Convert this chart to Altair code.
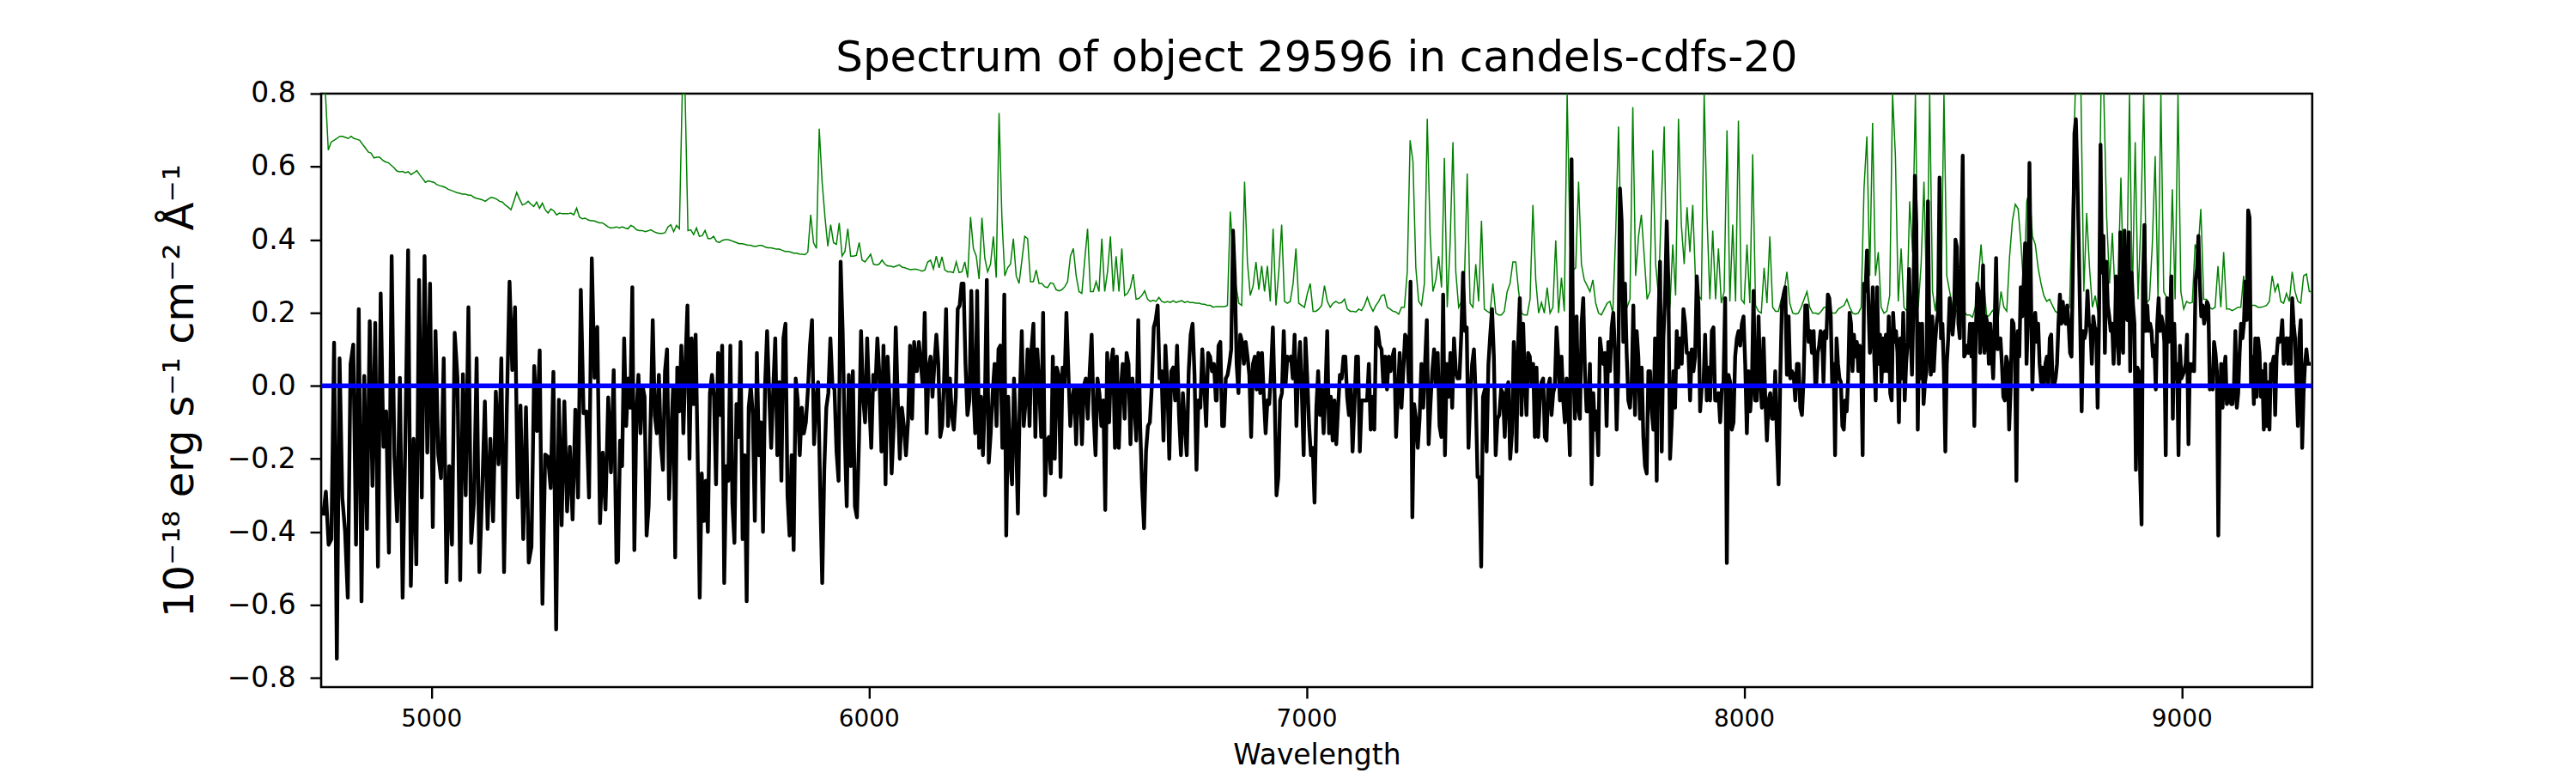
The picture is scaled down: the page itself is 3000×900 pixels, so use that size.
import altair as alt
import numpy as np
import pandas as pd

TITLE = "Spectrum of object 29596 in candels-cdfs-20"
X_TITLE = "Wavelength"
Y_TITLE = "10⁻¹⁸ erg s⁻¹ cm⁻² Å⁻¹"
X_TICKS = [5000, 6000, 7000, 8000, 9000]
Y_TICKS = [-0.8, -0.6, -0.4, -0.2, 0.0, 0.2, 0.4, 0.6, 0.8]
X_DOMAIN = [4748.5, 9298.4]
Y_DOMAIN = [-0.825, 0.8]
ZERO_LEVEL = [0.0]

# object flux, read strip by strip (start wavelength, end wavelength, values)
BLACK_S1 = [-0.355, -0.29, -0.435, -0.42, 0.118, -0.747, 0.075, -0.306, -0.398, -0.58, 0.059, 0.113, -0.435, 0.21, -0.59, 0.027, -0.392, 0.177, -0.274, 0.172, -0.495, 0.253, -0.167, -0.07, -0.457, 0.355, -0.194, -0.371, 0.022, -0.58, -0.14, 0.371, -0.548, -0.145, -0.489, 0.29, -0.306, 0.355, -0.183, 0.28, -0.387, 0.15, -0.188, -0.253, 0.075, -0.538, -0.22, -0.435, 0.145, 0.022, -0.532, 0.032, -0.3, 0.215, -0.43, -0.32, 0.075, -0.51, -0.296, -0.043, -0.392, -0.145, -0.371, -0.016, -0.215, 0.075, -0.51, -0.065, 0.285, 0.043, 0.215, -0.306, -0.054, -0.42, -0.059, -0.484, -0.44, 0.054, -0.124, 0.097, -0.597, -0.188, -0.194, -0.28, 0.038, -0.667, -0.038, -0.382, -0.043, -0.344, -0.167, -0.366, -0.065, -0.306, 0.263, -0.075, -0.07, -0.306, 0.349, 0.022, 0.161, -0.376, -0.183, -0.339, -0.032, -0.237, 0.043, -0.484]
BLACK_S2 = [-0.48, -0.15, -0.22, 0.13, -0.11, 0.02, -0.06, 0.27, -0.45, -0.08, 0.03, -0.13, 0.00, -0.03, -0.41, -0.33, -0.08, 0.18, -0.08, -0.13, 0.03, -0.16, -0.23, 0.04, 0.10, -0.31, -0.14, 0.00, -0.47, 0.05, -0.07, 0.11, -0.13, 0.06, 0.22, -0.20, 0.13, -0.05, 0.14, -0.19, -0.58, -0.24, -0.37, -0.26, -0.40, -0.02, 0.03, -0.03, -0.27, 0.09, -0.08, 0.11, -0.54, -0.22, -0.26, 0.11, -0.32, -0.43, -0.05, -0.14, 0.12, -0.42, -0.19, -0.59, -0.06, 0.00, -0.08, -0.37, 0.09, -0.19, -0.10, -0.40, 0.00, 0.15, -0.02, -0.17, -0.01, 0.13, -0.19, 0.01, -0.26, 0.13, 0.17, -0.30, -0.41, -0.19, -0.45, 0.02, -0.04, -0.19, -0.06, -0.13, -0.10, -0.01, 0.11, 0.18, -0.16, -0.04, 0.01, -0.29, -0.54, -0.23, -0.06, -0.02, 0.13, 0.00, -0.01, -0.18, -0.26, 0.34, 0.15, -0.13, -0.33, 0.03, -0.22, 0.04, -0.33, -0.36, -0.15, 0.15, -0.03, -0.10, 0.13, -0.04, -0.17, 0.03, -0.01, 0.13, 0.03, -0.18, 0.11, -0.27, 0.08, -0.04, -0.24, -0.11, 0.16, -0.04, -0.20, -0.06, -0.11, -0.19, -0.10, 0.11, -0.09, 0.12, 0.04]
BLACK_S3 = [0.04, 0.12, 0.06, 0.00, 0.20, -0.13, 0.05, 0.08, -0.03, 0.06, 0.14, 0.06, -0.14, -0.11, 0.02, 0.21, -0.11, 0.02, -0.08, -0.12, -0.03, 0.21, 0.22, 0.28, 0.28, 0.06, -0.08, -0.04, 0.26, 0.00, -0.13, 0.26, -0.17, -0.03, -0.19, -0.04, 0.29, -0.21, -0.13, -0.02, 0.06, -0.11, 0.10, 0.11, -0.17, 0.25, -0.41, -0.03, -0.20, -0.27, 0.02, -0.13, -0.35, -0.03, 0.15, -0.11, -0.04, 0.10, -0.11, 0.10, 0.17, -0.14, 0.10, 0.00, -0.14, 0.20, -0.30, -0.15, -0.14, -0.24, 0.08, -0.20, 0.05, 0.03, -0.25, 0.05, 0.00, 0.20, 0.04, -0.11, -0.04, 0.00, -0.16, 0.00, 0.00, -0.16, 0.00, 0.02, -0.09, 0.04, 0.14, -0.08, -0.19, 0.02, -0.02, -0.11, -0.04, -0.34, 0.09, -0.10, 0.06, 0.10, -0.17, 0.08, -0.17, -0.01, 0.06, -0.09, 0.09, 0.06, -0.16, 0.02, -0.05, -0.15, 0.18, -0.11, -0.28, -0.39, -0.18, -0.11, -0.10, 0.00, 0.16, 0.18, 0.22, 0.02, 0.04, -0.15, 0.11, 0.00, -0.20, 0.04, 0.05, -0.04, 0.11, -0.08, -0.19, -0.02, -0.11, -0.19, 0.04, 0.14, 0.17, 0.03, -0.23, -0.04, -0.06, 0.10, 0.00, -0.11, 0.09, 0.08, 0.04, 0.06, -0.04]
BLACK_S4 = [-0.04, 0.11, 0.12, -0.11, -0.11, 0.02, 0.03, 0.06, 0.10, 0.425, 0.30, 0.06, -0.02, 0.14, 0.12, 0.06, 0.12, 0.08, 0.03, -0.14, 0.06, 0.08, -0.01, 0.09, -0.02, 0.09, -0.03, -0.13, -0.04, -0.05, 0.04, 0.16, -0.03, -0.30, -0.25, -0.04, -0.02, 0.15, 0.00, 0.08, 0.07, 0.08, 0.02, 0.14, -0.11, 0.04, 0.12, -0.02, -0.19, 0.13, 0.02, -0.11, -0.19, -0.17, -0.32, -0.06, 0.04, -0.08, -0.01, -0.13, -0.02, 0.15, -0.13, -0.03, -0.15, -0.04, -0.16, -0.06, 0.03, 0.02, 0.08, 0.08, -0.03, -0.08, 0.00, -0.18, -0.06, 0.08, 0.08, -0.18, -0.04, -0.04, -0.04, -0.04, 0.06, -0.12, -0.03, -0.12, 0.16, 0.15, 0.11, 0.10, 0.00, 0.08, -0.01, 0.08, 0.04, 0.08, 0.10, -0.14, -0.03, 0.09, -0.06, 0.04, 0.14, 0.13, 0.01, 0.285, -0.36, -0.05, -0.09, -0.17, -0.09, 0.06, -0.06, 0.06, 0.18, -0.16, -0.05, 0.04, 0.10, 0.00, 0.09, -0.11, -0.14, 0.25, -0.19, 0.06, -0.03, 0.09, -0.06, 0.13, 0.04, 0.02, 0.02, 0.14, 0.31, 0.15, 0.16, -0.17, -0.03, 0.06, 0.10, -0.03, -0.25, -0.25, -0.495, -0.03, -0.01, -0.18, 0.06, 0.14, 0.21, 0.08, -0.19, -0.09, -0.08, -0.01, -0.02, -0.14, -0.01, 0.01, -0.20, -0.13, 0.12, 0.01]
BLACK_S5 = [-0.18, 0.12, 0.24, -0.08, 0.17, 0.02, -0.08, 0.09, 0.08, 0.00, 0.06, -0.14, 0.05, -0.14, -0.04, 0.01, 0.02, -0.14, -0.15, 0.00, 0.02, -0.08, -0.02, 0.00, 0.16, 0.08, -0.04, 0.08, -0.04, -0.10, 0.02, -0.05, -0.19, 0.62, 0.06, -0.09, 0.19, -0.06, -0.09, 0.17, 0.24, 0.04, -0.07, -0.07, 0.06, -0.27, -0.02, -0.12, -0.07, -0.19, 0.13, 0.09, 0.06, 0.09, -0.11, 0.12, 0.04, 0.16, 0.20, 0.09, -0.12, 0.04, 0.54, 0.45, 0.12, 0.28, 0.09, -0.04, -0.06, 0.01, 0.22, -0.08, 0.15, 0.08, -0.09, 0.05, -0.14, -0.22, -0.24, 0.04, 0.04, -0.07, -0.12, 0.13, -0.26, 0.17, 0.34, -0.18, 0.13, 0.24, 0.45, 0.28, -0.20, -0.10, 0.04, -0.06, 0.15, 0.05, 0.13, 0.06, 0.21, 0.17, 0.09, 0.09, -0.04, 0.10, 0.04, 0.08, 0.30, 0.22, -0.07, 0.00, 0.00, 0.14, -0.04, 0.05, -0.04, 0.15, 0.16, -0.04, -0.04, -0.02, -0.10, -0.01, 0.01, 0.24, -0.485, 0.03, 0.01, -0.12, -0.10, 0.08, 0.13, 0.15, 0.11, 0.17, 0.19, 0.06, -0.13, 0.04, -0.07, 0.00, 0.26, -0.04, -0.04, 0.19, 0.02, -0.06, 0.13, -0.03, -0.15, -0.04, -0.02, -0.09, -0.09, 0.04, -0.14, -0.27, 0.02, 0.22, 0.25, 0.27, 0.03, 0.19, 0.02, 0.04, 0.03, -0.04, 0.06, 0.06, -0.06, -0.08, 0.02, 0.22, 0.22, 0.12, 0.15, 0.09, 0.15, 0.00]
BLACK_S6 = [0.00, 0.09, 0.11, 0.15, 0.14, 0.01, 0.15, 0.13, 0.25, 0.24, 0.19, 0.00, 0.06, -0.19, 0.13, 0.06, 0.02, 0.01, -0.11, -0.12, -0.04, -0.07, 0.02, 0.20, 0.17, 0.04, 0.14, 0.08, 0.12, 0.04, 0.11, 0.06, -0.19, 0.28, 0.26, 0.37, 0.22, 0.09, 0.14, 0.27, 0.08, -0.04, 0.27, 0.06, 0.14, 0.01, 0.13, 0.04, 0.14, 0.04, 0.19, -0.02, -0.04, 0.20, 0.12, 0.15, 0.09, -0.10, 0.13, 0.02, 0.20, -0.04, 0.06, 0.12, 0.32, 0.15, 0.03, 0.22, 0.575, 0.44, -0.12, 0.17, 0.02, 0.17, -0.05, 0.01, 0.04, 0.505, 0.12, 0.03, 0.19, 0.04, 0.12, 0.17, 0.20, 0.57, 0.13, 0.17, 0.04, -0.18, 0.06, 0.13, 0.24, 0.19, 0.14, 0.19, 0.40, 0.38, 0.17, 0.13, 0.35, 0.63, 0.08, 0.09, 0.11, 0.09, 0.17, 0.08, 0.17, -0.11, 0.14, 0.28, 0.26, 0.09, 0.16, 0.33, 0.09, 0.19, 0.17, 0.06, 0.17, 0.09, 0.02, 0.17, 0.35, 0.10, 0.13, 0.13, 0.06, -0.03, -0.04, 0.08, 0.06, -0.12, -0.01, 0.18, 0.17, 0.09, -0.26, 0.15, 0.08, 0.27, 0.19, 0.28, 0.39, 0.06, 0.19, 0.61, 0.28, -0.01, 0.13, 0.20, 0.12, 0.17, 0.06, 0.01, 0.05, 0.00, 0.06, 0.08, 0.00, 0.13, 0.14, 0.00, 0.00, 0.02, 0.06, 0.17, 0.25, 0.17, 0.23, 0.18, 0.17, 0.22, 0.17, 0.09, 0.08, 0.34, 0.69, 0.73, 0.58, 0.39, 0.17, -0.07, 0.15, 0.13, 0.15, 0.26, 0.17, 0.16, 0.06, 0.19, 0.16, 0.15, -0.06, 0.18, 0.66, 0.31, 0.41, 0.09, 0.34, 0.22, 0.19, 0.15, 0.17, 0.06, 0.15]
BLACK_S7 = [0.30, 0.16, 0.06, 0.42, 0.13, 0.09, 0.425, 0.19, 0.18, 0.42, 0.04, 0.31, 0.22, 0.17, -0.23, 0.05, 0.04, -0.24, -0.38, 0.28, 0.44, 0.15, 0.22, 0.15, 0.17, 0.15, 0.08, 0.11, -0.01, 0.17, 0.24, 0.15, 0.19, 0.17, 0.12, -0.19, 0.24, 0.12, 0.19, 0.30, -0.09, 0.17, 0.02, 0.06, -0.19, 0.11, 0.02, 0.03, 0.04, 0.06, 0.14, -0.16, 0.06, 0.04, 0.06, 0.04, 0.29, 0.32, 0.41, 0.28, 0.19, 0.22, 0.17, 0.19, 0.23, 0.22, -0.01, 0.00, -0.01, 0.12, 0.09, 0.04, -0.41, -0.06, 0.06, -0.06, 0.04, 0.08, -0.05, -0.04, 0.00, -0.05, -0.05, 0.00, 0.15, -0.06, -0.02, 0.09, 0.17, 0.13, 0.17, 0.285, 0.18, 0.48, 0.46, 0.00, 0.08, -0.05, 0.13, -0.03, 0.13, 0.09, -0.03, 0.04, -0.12, 0.06, -0.11, 0.01, -0.12, 0.06, 0.06, 0.08, -0.08, 0.08, 0.13, 0.12, 0.13, 0.18, 0.06, 0.12, 0.13, 0.06, 0.13, 0.06, 0.24, 0.17, 0.13, 0.00, -0.11, 0.13, 0.18, -0.17, -0.02, 0.06, 0.10, 0.06, 0.06, 0.06]
BLACK_STRIPS = [
    (4753.0, 5423.3, BLACK_S1),
    (5426.9, 6108.2, BLACK_S2),
    (6110.0, 6793.1, BLACK_S3),
    (6795.0, 7478.0, BLACK_S4),
    (7480.0, 8162.9, BLACK_S5),
    (8165.0, 8847.8, BLACK_S6),
    (8850.0, 9294.9, BLACK_S7),
]

# second (green) spectrum on a regular wavelength grid, per strip (start wavelength, values)
GREEN_STEP = 6.523
GREEN_S1 = [1.0, 1.0, 0.645, 0.667, 0.672, 0.677, 0.683, 0.683, 0.680, 0.677, 0.683, 0.677, 0.675, 0.672, 0.661, 0.651, 0.640, 0.637, 0.624, 0.626, 0.626, 0.618, 0.613, 0.611, 0.604, 0.597, 0.588, 0.586, 0.587, 0.583, 0.586, 0.578, 0.583, 0.589, 0.578, 0.568, 0.557, 0.561, 0.559, 0.557, 0.551, 0.548, 0.546, 0.543, 0.538, 0.535, 0.532, 0.529, 0.527, 0.525, 0.525, 0.522, 0.522, 0.516, 0.513, 0.511, 0.509, 0.505, 0.511, 0.516, 0.514, 0.511, 0.505, 0.503, 0.495, 0.489, 0.482, 0.505, 0.529, 0.511, 0.495, 0.498, 0.505, 0.497, 0.491, 0.503, 0.486, 0.500, 0.482, 0.473, 0.484, 0.479, 0.468, 0.473, 0.471, 0.471, 0.471, 0.473, 0.468, 0.486, 0.462, 0.457, 0.459, 0.454, 0.452, 0.452, 0.449, 0.446, 0.446, 0.441, 0.435, 0.432, 0.433]
GREEN_S2 = [0.435, 0.432, 0.435, 0.432, 0.430, 0.439, 0.435, 0.427, 0.425, 0.425, 0.422, 0.424, 0.427, 0.422, 0.419, 0.417, 0.417, 0.419, 0.435, 0.441, 0.422, 0.439, 0.430, 1.2, 1.2, 0.425, 0.427, 0.414, 0.432, 0.409, 0.411, 0.425, 0.403, 0.403, 0.409, 0.395, 0.392, 0.398, 0.400, 0.400, 0.398, 0.395, 0.392, 0.389, 0.389, 0.387, 0.385, 0.385, 0.382, 0.382, 0.384, 0.384, 0.380, 0.378, 0.378, 0.376, 0.374, 0.374, 0.371, 0.368, 0.368, 0.366, 0.363, 0.363, 0.361, 0.360, 0.359, 0.366, 0.468, 0.392, 0.376, 0.704, 0.559, 0.462, 0.382, 0.441, 0.392, 0.387, 0.446, 0.355, 0.368, 0.430, 0.355, 0.355, 0.357, 0.392, 0.344, 0.339, 0.349, 0.360, 0.333, 0.331, 0.333, 0.344, 0.333, 0.328, 0.328, 0.325, 0.328, 0.331, 0.325, 0.323, 0.320, 0.318, 0.319]
GREEN_S3 = [0.319, 0.317, 0.314, 0.317, 0.339, 0.344, 0.320, 0.355, 0.323, 0.353, 0.317, 0.312, 0.312, 0.310, 0.339, 0.310, 0.312, 0.339, 0.296, 0.462, 0.376, 0.355, 0.292, 0.460, 0.349, 0.312, 0.333, 0.409, 0.296, 0.747, 0.457, 0.301, 0.323, 0.333, 0.403, 0.301, 0.280, 0.344, 0.409, 0.403, 0.285, 0.285, 0.317, 0.280, 0.280, 0.271, 0.269, 0.282, 0.280, 0.263, 0.260, 0.263, 0.271, 0.285, 0.355, 0.376, 0.301, 0.258, 0.253, 0.344, 0.430, 0.258, 0.258, 0.285, 0.258, 0.403, 0.258, 0.312, 0.409, 0.258, 0.355, 0.258, 0.376, 0.247, 0.253, 0.269, 0.306, 0.237, 0.239, 0.247, 0.260, 0.237, 0.231, 0.234, 0.231, 0.242, 0.231, 0.228, 0.231, 0.228, 0.233, 0.228, 0.231, 0.233, 0.228, 0.231, 0.228, 0.228, 0.226, 0.226, 0.224, 0.223, 0.220, 0.220, 0.215]
GREEN_S4 = [0.217, 0.217, 0.217, 0.217, 0.220, 0.477, 0.355, 0.274, 0.226, 0.220, 0.559, 0.339, 0.247, 0.274, 0.339, 0.263, 0.328, 0.258, 0.328, 0.231, 0.430, 0.220, 0.312, 0.441, 0.231, 0.226, 0.231, 0.280, 0.376, 0.226, 0.220, 0.215, 0.253, 0.280, 0.204, 0.204, 0.210, 0.220, 0.274, 0.231, 0.215, 0.226, 0.231, 0.226, 0.228, 0.237, 0.210, 0.204, 0.204, 0.202, 0.210, 0.206, 0.220, 0.242, 0.220, 0.204, 0.220, 0.231, 0.247, 0.249, 0.215, 0.210, 0.204, 0.202, 0.196, 0.215, 0.215, 0.312, 0.672, 0.613, 0.323, 0.231, 0.220, 0.280, 0.731, 0.419, 0.258, 0.290, 0.355, 0.269, 0.624, 0.215, 0.387, 0.667, 0.312, 0.215, 0.231, 0.280, 0.581, 0.226, 0.215, 0.333, 0.231, 0.452, 0.210, 0.204, 0.199, 0.280, 0.199, 0.194, 0.194, 0.204, 0.258, 0.280, 0.339]
GREEN_S5 = [0.339, 0.258, 0.199, 0.194, 0.194, 0.237, 0.495, 0.290, 0.199, 0.228, 0.199, 0.269, 0.199, 0.215, 0.398, 0.199, 0.296, 0.204, 0.95, 0.387, 0.317, 0.323, 0.559, 0.333, 0.290, 0.274, 0.258, 0.290, 0.226, 0.199, 0.194, 0.210, 0.226, 0.231, 0.199, 0.419, 0.710, 0.349, 0.237, 0.215, 0.237, 0.763, 0.301, 0.409, 0.468, 0.355, 0.237, 0.258, 0.645, 0.333, 0.247, 0.495, 0.710, 0.237, 0.215, 0.387, 0.247, 0.731, 0.441, 0.333, 0.489, 0.366, 0.495, 0.280, 0.247, 0.237, 0.95, 0.462, 0.237, 0.425, 0.237, 0.376, 0.226, 0.258, 0.699, 0.231, 0.441, 0.231, 0.726, 0.237, 0.226, 0.387, 0.226, 0.634, 0.220, 0.204, 0.199, 0.323, 0.226, 0.409, 0.215, 0.204, 0.204, 0.237, 0.258, 0.312, 0.226, 0.199, 0.196, 0.199, 0.215, 0.237, 0.258, 0.215, 0.199]
GREEN_S6 = [0.199, 0.196, 0.204, 0.215, 0.215, 0.199, 0.199, 0.199, 0.210, 0.215, 0.220, 0.237, 0.215, 0.199, 0.196, 0.199, 0.215, 0.540, 0.683, 0.301, 0.720, 0.301, 0.366, 0.215, 0.199, 0.204, 0.247, 0.95, 0.629, 0.231, 0.376, 0.215, 0.204, 0.505, 0.366, 0.95, 0.215, 0.333, 0.559, 0.215, 0.95, 0.258, 0.204, 0.290, 0.220, 0.95, 0.301, 0.258, 0.215, 0.199, 0.215, 0.199, 0.204, 0.194, 0.194, 0.188, 0.215, 0.290, 0.387, 0.280, 0.188, 0.194, 0.206, 0.196, 0.183, 0.258, 0.215, 0.204, 0.355, 0.452, 0.497, 0.484, 0.387, 0.258, 0.505, 0.535, 0.409, 0.387, 0.323, 0.280, 0.247, 0.231, 0.237, 0.220, 0.204, 0.199, 0.204, 0.199, 0.199, 0.215, 0.505, 0.95, 0.95, 0.95, 0.258, 0.473, 0.323, 0.215, 0.247, 0.199, 0.95, 0.95, 0.462, 0.280, 0.419]
GREEN_S7 = [0.237, 0.280, 0.570, 0.237, 0.258, 0.95, 0.231, 0.667, 0.237, 0.452, 0.95, 0.226, 0.237, 0.387, 0.629, 0.237, 0.95, 0.258, 0.242, 0.231, 0.538, 0.237, 0.95, 0.258, 0.210, 0.231, 0.226, 0.228, 0.387, 0.366, 0.484, 0.237, 0.237, 0.215, 0.210, 0.215, 0.328, 0.215, 0.366, 0.210, 0.210, 0.206, 0.210, 0.215, 0.215, 0.301, 0.226, 0.220, 0.220, 0.220, 0.215, 0.215, 0.217, 0.220, 0.231, 0.301, 0.258, 0.280, 0.231, 0.226, 0.253, 0.231, 0.312, 0.258, 0.231, 0.226, 0.301, 0.306, 0.258, 0.258]
GREEN_STRIPS = [
    (4751.75, GREEN_S1),
    (5423.6, GREEN_S2),
    (6108.5, GREEN_S3),
    (6793.4, GREEN_S4),
    (7478.4, GREEN_S5),
    (8163.3, GREEN_S6),
    (8848.2, GREEN_S7),
]

black_rows = []
for start, end, vals in BLACK_STRIPS:
    waves = np.linspace(start, end, len(vals))
    black_rows += [{"wave": float(w), "flux": v} for w, v in zip(waves, vals)]
black_df = pd.DataFrame(black_rows)

green_rows = []
for start, vals in GREEN_STRIPS:
    green_rows += [{"wave": start + i * GREEN_STEP, "flux": v} for i, v in enumerate(vals)]
green_df = pd.DataFrame(green_rows)

zero_df = pd.DataFrame({"level": ZERO_LEVEL})

FONT = "DejaVu Sans"

x_enc = alt.X(
    "wave:Q",
    scale=alt.Scale(domain=X_DOMAIN, nice=False, zero=False, clamp=True),
    axis=alt.Axis(
        values=X_TICKS, format="d", title=X_TITLE,
        labelFontSize=28, titleFontSize=33, labelPadding=11, titlePadding=12,
    ),
)
y_enc = alt.Y(
    "flux:Q",
    scale=alt.Scale(domain=Y_DOMAIN, nice=False, zero=False, clamp=True),
    axis=alt.Axis(
        values=Y_TICKS, format=".1f", title=Y_TITLE,
        labelFontSize=33, titleFontSize=48, labelPadding=17, titlePadding=30,
    ),
)

green = alt.Chart(green_df).mark_line(
    color="#008000", strokeWidth=1.5, clip=True
).encode(x=x_enc, y=y_enc)

black = alt.Chart(black_df).mark_line(
    color="#000000", strokeWidth=4.4, strokeJoin="round", clip=True
).encode(x="wave:Q", y="flux:Q")

zero = alt.Chart(zero_df).mark_rule(
    color="#0000ff", strokeWidth=5.5
).encode(y="level:Q")

chart = (
    alt.layer(green, black, zero)
    .properties(
        width=2325,
        height=693,
        padding={"left": 367, "top": 100, "right": 300, "bottom": 99},
        autosize=alt.AutoSizeParams(type="none"),
        title=alt.TitleParams(
            text=TITLE, fontSize=50, font=FONT, fontWeight="normal",
            color="black", anchor="middle", baseline="bottom", offset=13, dy=63,
        ),
        background="white",
    )
    .configure_view(stroke="black", strokeWidth=2.6)
    .configure_axis(
        labelFont=FONT, titleFont=FONT, labelColor="black", titleColor="black",
        titleFontWeight="normal", domain=False, grid=False,
        tickColor="black", tickSize=13, tickWidth=2.4,
    )
)

chart.save("out.html", embed_options={"renderer": "svg", "actions": False})
